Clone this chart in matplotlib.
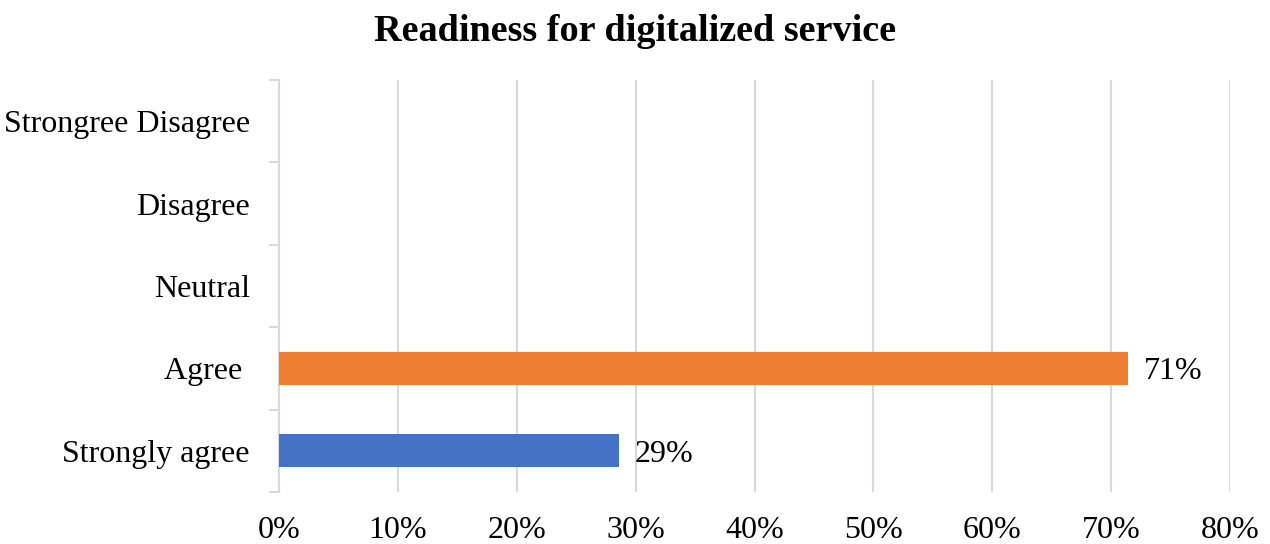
import matplotlib.pyplot as plt
import numpy as np

# survey answers, bottom to top
categories = ["Strongly agree", "Agree ", "Neutral", "Disagree", "Strongree Disagree"]
shares = [28.57, 71.43, 0, 0, 0]
bar_colors = ["#4472C4", "#ED7D31", "#A5A5A5", "#FFC000", "#5B9BD5"]
xtick_values = [0, 10, 20, 30, 40, 50, 60, 70, 80]

plt.rcParams["font.family"] = ["Liberation Serif", "DejaVu Serif"]

fig = plt.figure(figsize=(12.7, 5.44), dpi=100)
ax = fig.add_axes([0.2197, 0.0956, 0.7488, 0.7574])

y = np.arange(len(categories))
ax.barh(y, shares, height=0.4, color=bar_colors, zorder=3)

# value labels only for non-empty bars
for yi, v in zip(y, shares):
    if v > 0:
        ax.text(v + 1.35, yi - 0.04, "{:.0f}%".format(v), va="center", ha="left", fontsize=23, color="#000000")

ax.set_xlim(0, 80)
ax.set_ylim(-0.5, len(categories) - 0.5)
ax.set_xticks(xtick_values)
ax.set_xticklabels(["{}%".format(t) for t in xtick_values], fontsize=23)
ax.set_yticks(y)
ax.set_yticklabels(categories, fontsize=23)
ax.set_yticks(np.arange(-0.5, len(categories), 1), minor=True)

ax.grid(axis="x", color="#D9D9D9", linewidth=1.5, zorder=0)
for s in ["top", "right", "bottom"]:
    ax.spines[s].set_visible(False)
ax.spines["left"].set_color("#D9D9D9")
ax.spines["left"].set_linewidth(1.5)

ax.tick_params(axis="x", length=0, pad=17.5)
ax.tick_params(axis="y", which="major", length=0, pad=21)
ax.tick_params(axis="y", which="minor", length=7, width=1.5, color="#D9D9D9")

fig.text(0.5, 0.943, "Readiness for digitalized service", ha="center", va="center",
         fontsize=27.5, fontweight="bold")

fig.savefig("out.png", dpi=100)
